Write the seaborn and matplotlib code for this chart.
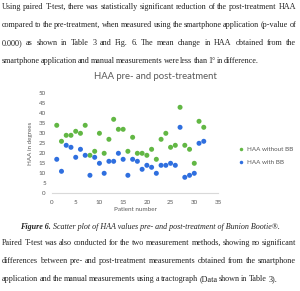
import matplotlib
matplotlib.use('Agg')
import pandas as pd
import seaborn as sns
from matplotlib import pyplot as plt

patients = list(range(1, 33))
haa_without_bb = [34, 26, 29, 29, 31, 30, 34, 19, 21, 30, 20, 27, 37, 32, 32, 21,
                  28, 20, 20, 19, 22, 17, 27, 30, 23, 24, 43, 24, 22, 15, 36, 33]
haa_with_bb = [17, 11, 24, 23, 18, 22, 19, 9, 18, 15, 10, 16, 16, 20, 17, 9,
               17, 16, 12, 14, 13, 10, 14, 14, 15, 14, 33, 8, 9, 10, 25, 26]
series_names = ['HAA without BB', 'HAA with BB']
x_ticks = [0, 5, 10, 15, 20, 25, 30, 35]
y_ticks = [0, 5, 10, 15, 20, 25, 30, 35, 40, 45, 50]

top_lines = [
    "Using paired T-test, there was statistically significant reduction of the post-treatment HAA",
    "compared to the pre-treatment, when measured using the smartphone application (p-value of",
    "0.000) as shown in Table 3 and Fig. 6. The mean change in HAA obtained from the",
    "smartphone application and manual measurements were less than 1\u00b0 in difference.",
]
caption_bold = "Figure 6."
caption_rest = "Scatter plot of HAA values pre- and post-treatment of Bunion Bootie\u00ae."
bottom_lines = [
    "Paired T-test was also conducted for the two measurement methods, showing no significant",
    "differences between pre- and post-treatment measurements obtained from the smartphone",
    "application and the manual measurements using a tractograph (Data shown in Table 3).",
]

W, H = 300, 291
TXT = '#222222'
GRAY = '#595959'


def place_line(fig, line, y, x0=2, x1=296, size=5.9):
    # draws one line of body text word by word, spread from x0 to x1
    renderer = fig.canvas.get_renderer()
    words = line.split()
    texts = [fig.text(0, 1 - y / H, w, fontsize=size, family='Liberation Serif',
                      color=TXT, va='center', ha='left') for w in words]
    widths = [t.get_window_extent(renderer).width for t in texts]
    gap = (x1 - x0 - sum(widths)) / (len(words) - 1)
    x = x0
    for t, w in zip(texts, widths):
        t.set_x(x / W)
        x += w + gap


sns.set_style('white')
plt.rcParams['font.family'] = ['Lato', 'DejaVu Sans']

frame = pd.DataFrame({
    'patient': patients * 2,
    'haa': haa_without_bb + haa_with_bb,
    'series': [series_names[0]] * len(patients) + [series_names[1]] * len(patients),
})

fig = plt.figure(figsize=(W / 100, H / 100), dpi=100)
ax = fig.add_axes([52 / W, 1 - 193.3 / H, 166 / W, 100 / H])

sns.scatterplot(data=frame, x='patient', y='haa', hue='series', ax=ax,
                palette=['#62b744', '#2f6fdf'], s=13, linewidth=0, legend=True)

ax.set_xlim(0, 35)
ax.set_ylim(0, 50)
ax.set_xticks(x_ticks)
ax.set_yticks(y_ticks)
ax.tick_params(length=0, labelsize=4.5, labelcolor=GRAY, pad=4.5)
for side in ['top', 'right', 'left']:
    ax.spines[side].set_visible(False)
ax.spines['bottom'].set_color('#d9d9d9')
ax.spines['bottom'].set_linewidth(0.8)

ax.set_xlabel('Patient number', fontsize=4.5, color=GRAY, labelpad=2)
ax.set_ylabel('HAA in degrees', fontsize=4.5, color=GRAY, labelpad=4)
fig.text(155 / W, 1 - 77 / H, 'HAA pre- and post-treatment', fontsize=6.8,
         color=GRAY, ha='center', va='center')

handles, labels = ax.get_legend_handles_labels()
ax.legend(handles=handles, labels=labels, loc='center left',
          bbox_to_anchor=(232 / W, 1 - 156 / H), bbox_transform=fig.transFigure,
          frameon=False, fontsize=4.5, labelcolor=GRAY, handletextpad=0.0,
          labelspacing=1.2, markerscale=0.7, borderaxespad=0)

# paragraph lines; the last line of each paragraph ends short, as on the page
top_ends = [296, 296, 296, 259]
for i, line in enumerate(top_lines):
    place_line(fig, line, 7 + 18 * i, x1=top_ends[i])

renderer = fig.canvas.get_renderer()
cap1 = fig.text(0, 1 - 227 / H, caption_bold, fontsize=5.8, family='Liberation Serif',
                style='italic', weight='bold', color=TXT, va='center')
cap2 = fig.text(0, 1 - 227 / H, caption_rest, fontsize=5.8, family='Liberation Serif',
                style='italic', color=TXT, va='center')
w1 = cap1.get_window_extent(renderer).width
w2 = cap2.get_window_extent(renderer).width
start = 150 - (w1 + 2 + w2) / 2
cap1.set_x(start / W)
cap2.set_x((start + w1 + 2) / W)

bottom_ends = [296, 296, 277]
for i, line in enumerate(bottom_lines):
    place_line(fig, line, 243 + 18 * i, x1=bottom_ends[i])

fig.savefig('out.png', dpi=100)
